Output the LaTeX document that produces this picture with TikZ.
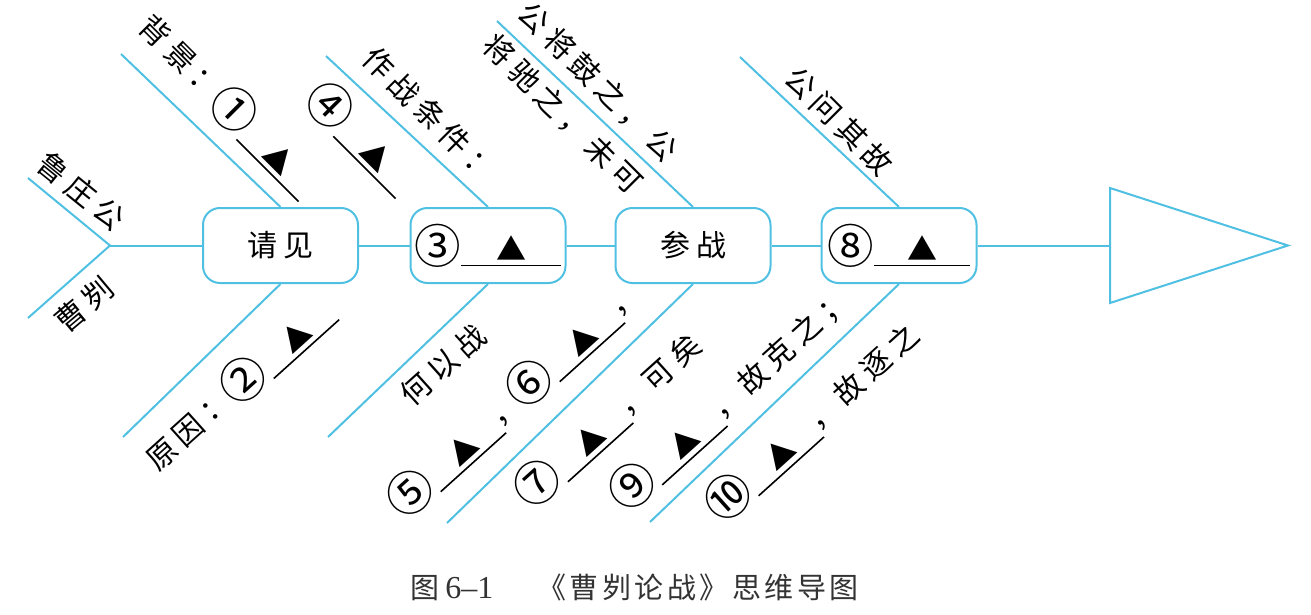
\documentclass[tikz,border=0pt]{standalone}
\usepackage{graphicx}
\usepackage{fontspec}
\newfontfamily\cjk[LetterSpace=20]{Noto Sans CJK SC}
\newfontfamily\capcjk[LetterSpace=12]{Noto Sans CJK SC}
\newfontfamily\capnum{Liberation Serif}
\definecolor{fishblue}{RGB}{80,192,226}
\newcommand\blank[1][44pt]{\rlap{\rule[-4.3pt]{#1}{0.8pt}}\makebox[#1]{\raisebox{-1.5pt}{▲}}}
\newcommand\cn[1]{\raisebox{-2.8pt}{\scalebox{1.55}{#1}}}

\begin{document}
\begin{tikzpicture}
[x=0.5pt, y=-0.5pt,
 every node/.style={inner sep=0pt, font=\fontsize{15pt}{18pt}\cjk},
 box/.style={draw=fishblue, line width=1pt, rounded corners=8.5pt, minimum width=77.5pt, minimum height=37.5pt},
 bone/.style={draw=fishblue, line width=1pt},
 toplbl/.style={rotate=-45},
 botlbl/.style={rotate=42}]
\useasboundingbox (0,0) rectangle (1311,615);
% boxes on the spine
\node (qj) [box] at (280.5,245.5) {请见};
\node (b3) [box] at (488,245.5) {\cn{③}\blank[50pt]};
\node (cz) [box] at (693,245.5) {参战};
\node (b8) [box] at (899,245.5) {\cn{⑧}\blank[48pt]};
% spine, tail and head
\coordinate (tail) at (110,245.5);
\coordinate (tu) at (28,178);
\coordinate (td) at (28,318);
\coordinate (head) at (1110,245.5);
\draw [bone] (tu) -- (tail) -- (td);
\draw [bone] (tail) -- (qj);
\draw [bone] (qj) -- (b3);
\draw [bone] (b3) -- (cz);
\draw [bone] (cz) -- (b8);
\draw [bone] (b8) -- (head);
\draw [bone] (head) ++(0,-57.5) -- ++(178,57.5) -- ++(-178,57.5) -- cycle;
% bones
\coordinate (qjt) at (121,54);
\coordinate (b3t) at (326,56);
\coordinate (czt) at (497,21);
\coordinate (b8t) at (740,57);
\coordinate (qjb) at (123,437);
\coordinate (b3b) at (328,437);
\coordinate (czb) at (447,523);
\coordinate (b8b) at (650,522);
\draw [bone] (qj.north) -- (qjt);
\draw [bone] (b3.north) -- (b3t);
\draw [bone] (cz.north) -- (czt);
\draw [bone] (b8.north) -- (b8t);
\draw [bone] (qj.south) -- (qjb);
\draw [bone] (b3.south) -- (b3b);
\draw [bone] (cz.south) -- (czb);
\draw [bone] (b8.south) -- (b8b);
% labels
\node (lz) [rotate=-39] at (81,191) {鲁庄公};
\node (cg) [rotate=40] at (84,305) {曹刿};
\node (bj) [toplbl] at (229,104) {背景：\cn{①}\blank};
\node (zz) [toplbl] at (430,114) {作战条件：};
\node (a4) [toplbl] at (362,137) {\cn{④}\blank};
\node (gg) [toplbl] at (598,82) {公将鼓之，公};
\node (jc) [toplbl] at (563,114) {将驰之，未可};
\node (gw) [toplbl] at (839,121) {公问其故};
\node (yy) [botlbl] at (238,384) {原因：\cn{②}\blank};
\node (hy) [botlbl] at (443,365) {何以战};
\node (a5) [botlbl] at (454,453) {\cn{⑤}\blank，};
\node (a6) [botlbl] at (573,343) {\cn{⑥}\blank，};
\node (a7) [botlbl] at (608,419) {\cn{⑦}\blank，可矣};
\node (a9) [botlbl] at (729,398) {\cn{⑨}\blank，故克之；};
\node (a10) [botlbl] at (812,421) {\cn{⑩}\blank，故逐之};
% caption
\node (cap) [anchor=west, text=black!80, font=\fontsize{14.5pt}{16pt}\capcjk] at (410,587)
  {图\hspace{3pt}{\fontsize{16pt}{16pt}\capnum 6–1}\hspace{22pt}《曹刿论战》思维导图};
\end{tikzpicture}
\end{document}
